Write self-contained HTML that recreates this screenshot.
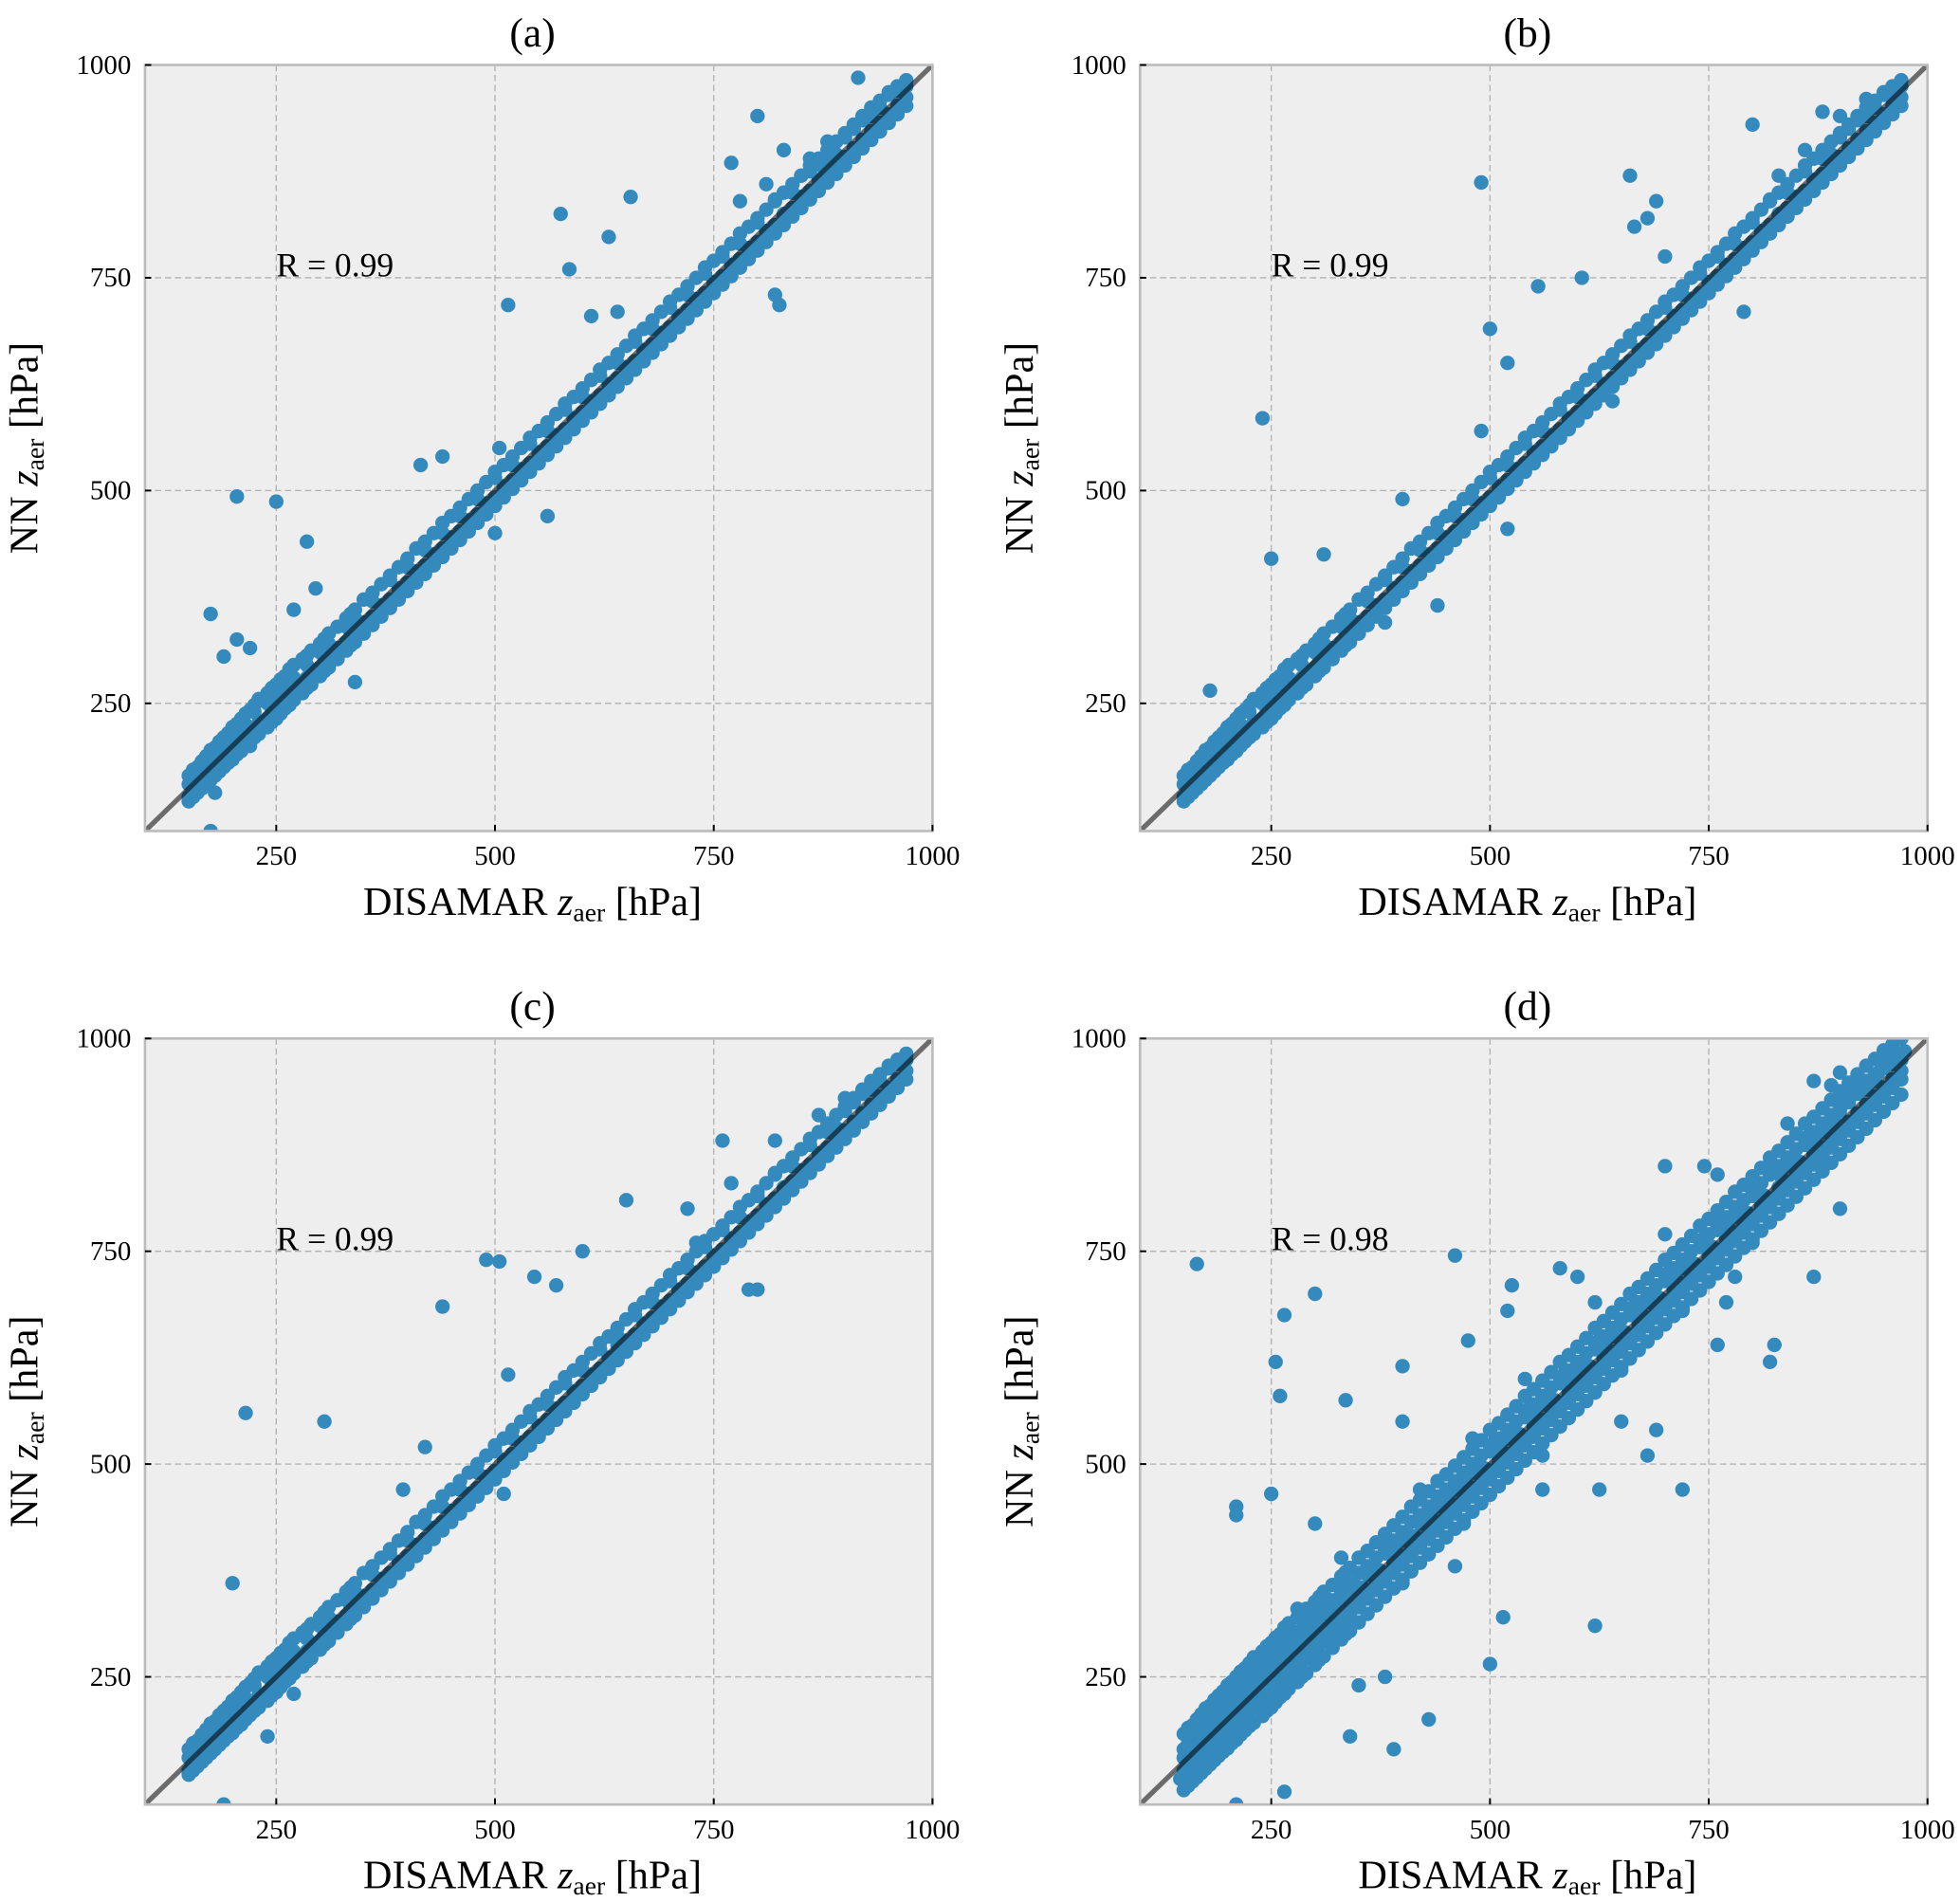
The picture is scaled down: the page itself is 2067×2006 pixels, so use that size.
<!DOCTYPE html>
<html><head><meta charset="utf-8"><style>
html,body{margin:0;padding:0;background:#fff;}
svg{display:block;font-family:"Liberation Serif",serif;}
</style></head><body>
<svg id="fig" width="2067" height="2006" viewBox="0 0 1568 1522" preserveAspectRatio="none" xmlns="http://www.w3.org/2000/svg"></svg>
<script>
const ticks = [250, 500, 750, 1000];
const tickLabels = ["250", "500", "750", "1000"];
const panelTitles = ["(a)", "(b)", "(c)", "(d)"];
const rLabels = ["R = 0.99", "R = 0.99", "R = 0.99", "R = 0.98"];
const bandX = [150,155,160,165,170,175,180,185,190,195,200,205,210,215,220,225,230,240,245,250,255,260,265,270,280,285,290,300,305,310,320,330,335,340,350,360,370,380,390,400,410,420,430,440,450,460,470,480,490,500,510,520,530,540,550,560,570,580,590,600,610,620,630,640,650,660,670,680,690,700,710,720,730,740,750,760,770,780,790,800,810,820,830,840,850,860,870,880,890,900,910,920,930,940,950,960,970];
const bandY = [155,148,165,160,180,170,190,178,195,205,190,215,205,225,212,240,228,250,235,260,248,270,255,280,275,295,285,310,300,320,315,340,330,350,345,370,365,395,385,410,405,430,425,450,445,470,465,490,485,515,505,530,525,555,545,570,565,595,585,610,605,635,625,650,645,675,665,690,685,715,705,730,725,755,745,775,765,790,785,815,805,840,825,850,845,875,865,890,895,915,925,935,940,950,965,970,975];
const bandLowY = [140,145,150,158,162,168,172,180,185,188,195,198,205,208,215,220,225,232,240,244,250,255,262,265,272,280,284,292,298,305,312,322,328,335,342,352,362,372,382,392,402,412,422,432,442,452,462,472,482,492,502,512,522,532,542,552,562,572,582,592,602,612,622,632,642,652,662,672,682,692,702,712,722,732,742,752,762,772,782,792,802,812,822,832,842,852,862,872,882,892,902,912,922,932,942,952,962];
const bandHiY = [165,172,175,182,188,195,198,205,210,215,222,226,232,238,242,248,255,262,268,272,278,282,290,295,302,306,312,320,326,332,340,350,355,360,372,380,390,400,410,420,432,440,450,462,470,480,490,500,510,522,530,540,550,562,570,580,590,602,610,620,630,642,650,660,670,682,690,700,710,722,730,740,750,762,770,780,790,802,810,820,830,842,850,860,870,882,890,900,910,920,930,940,950,958,968,975,982];
const bandLow2Y = [135,140,145,150,155,160,165,170,175,180,184,190,194,200,205,210,214,222,228,232,238,244,248,254,262,268,272,282,288,292,302,312,318,322,332,342,352,362,372,382,392,402,412,422,432,442,452,462,472,482,492,502,512,522,532,542,552,562,572,582,592,602,612,622,632,642,652,662,672,682,692,702,712,722,732,742,752,762,772,782,792,802,812,822,832,842,852,862,872,882,892,902,912,922,932,942,952];
const outAX = [175,205,250,190,205,220,285,270,295,340,415,440,505,500,515,560,575,585,610,630,655,640,770,820,825,800,875,915,175,180,220,245,830,850,860,880,780,810];
const outAY = [355,493,487,305,325,315,440,360,385,275,530,540,550,450,718,470,825,760,705,798,845,710,885,730,718,940,880,985,100,145,200,230,900,870,890,910,840,860];
const outBX = [240,250,490,500,520,555,605,640,660,665,680,690,700,790,800,830,880,960,180,310,400,440,520,380,490,830,860,900,930];
const outBY = [585,420,862,690,650,740,750,605,870,810,820,840,775,710,930,870,945,960,265,425,490,365,455,345,570,820,900,940,960];
const outCX = [215,200,305,440,490,505,515,545,570,600,640,650,720,760,790,800,420,395,190,240,270,510,730,770,820,870,900];
const outCY = [560,360,550,685,740,738,605,720,710,750,640,810,800,880,705,705,520,470,100,180,230,465,760,830,880,910,930];
const outDX = [165,210,255,260,265,300,335,340,390,400,400,430,460,475,500,515,520,525,580,620,625,650,680,690,720,760,770,820,825,870,900,210,265,350,380,460,560,600,700,745,870,890,210,250,300,440,600,780,230,280,330,420,480,540,620,700,760,840,900,190,250,320,400,470,560,650,720,800,880];
const outDY = [735,450,620,580,675,700,575,180,165,615,550,200,745,645,265,320,680,710,730,310,470,550,510,540,470,640,690,620,640,720,800,100,115,240,250,380,470,600,850,850,950,945,440,465,430,460,720,720,270,330,390,470,530,600,690,770,840,900,960,160,225,290,360,430,510,610,680,760,850];
const panels = [
  {ox:116, oy:52, ox2:outAX, oy2:outAY, wide:false},
  {ox:912, oy:52, ox2:outBX, oy2:outBY, wide:false},
  {ox:116, oy:831, ox2:outCX, oy2:outCY, wide:false},
  {ox:912, oy:831, ox2:outDX, oy2:outDY, wide:true}
];
const W = 630, H = 613, VMIN = 100, VMAX = 1000;
const svg = document.getElementById('fig');
const NS = 'http://www.w3.org/2000/svg';
function mk(tag, attrs, parent){const e=document.createElementNS(NS,tag);for(const k in attrs)e.setAttribute(k,attrs[k]);(parent||svg).appendChild(e);return e;}
panels.forEach((p,i)=>{
  const sx = v => p.ox + (v-VMIN)/(VMAX-VMIN)*W;
  const sy = v => p.oy + H - (v-VMIN)/(VMAX-VMIN)*H;
  const g = mk('g',{});
  
  
  const bg = mk('rect',{x:p.ox,y:p.oy,width:W,height:H,fill:'#eeeeee'},g);
  
  
  ticks.slice(0,3).forEach(t=>{
    const gx = mk('line',{x1:sx(t),x2:sx(t),y1:p.oy,y2:p.oy+H,stroke:'#b0b0b0','stroke-width':1,'stroke-dasharray':'5,3'},g);
    
    
    const gy = mk('line',{x1:p.ox,x2:p.ox+W,y1:sy(t),y2:sy(t),stroke:'#b0b0b0','stroke-width':1,'stroke-dasharray':'5,3'},g);
    
    
  });
  const clip = mk('clipPath',{id:'clip'+i},g);
  mk('rect',{x:p.ox,y:p.oy,width:W,height:H},clip);
  const pts = mk('g',{fill:'#348abd','clip-path':'url(#clip'+i+')'},g);
  
  
  const addPt=(x,y)=>{
    const c = mk('circle',{cx:sx(x),cy:sy(y),r:5.8},pts);
    
    
  };
  bandX.forEach((x,k)=>{addPt(x,bandY[k]);addPt(x,bandLowY[k]);addPt(x,bandHiY[k]);addPt(x,bandLow2Y[k]);});
  if(p.wide){bandX.forEach((x,k)=>{addPt(x,bandHiY[k]+18);addPt(x,bandLow2Y[k]-18);addPt(x+4,bandY[k]+10);addPt(x-4,bandLowY[k]-10);});}
  p.ox2.forEach((x,k)=>addPt(x,p.oy2[k]));
  const diag = mk('line',{x1:sx(VMIN),y1:sy(VMIN),x2:sx(VMAX),y2:sy(VMAX),stroke:'#000','stroke-opacity':0.55,'stroke-width':4,'clip-path':'url(#clip'+i+')'},g);
  
  
  const fr = mk('rect',{x:p.ox,y:p.oy,width:W,height:H,fill:'none',stroke:'#bcbcbc','stroke-width':2},g);
  
  
  ticks.forEach((t,k)=>{
    mk('line',{x1:sx(t),x2:sx(t),y1:p.oy+H,y2:p.oy+H-5,stroke:'#000','stroke-width':1.5},g);
    mk('line',{x1:p.ox,x2:p.ox+5,y1:sy(t),y2:sy(t),stroke:'#000','stroke-width':1.5},g);
    const xl = mk('text',{x:sx(t),y:p.oy+H+27,'text-anchor':'middle','font-size':22},g);
    xl.textContent = tickLabels[k];
    
    
    const yl = mk('text',{x:p.ox-11,y:sy(t)+7,'text-anchor':'end','font-size':22},g);
    yl.textContent = tickLabels[k];
    
    
  });
  const ti = mk('text',{x:p.ox+W/2-5,y:p.oy-15,'text-anchor':'middle','font-size':33},g);
  ti.textContent = panelTitles[i];
  
  
  const rt = mk('text',{x:sx(250),y:sy(750)-1,'font-size':27},g);
  rt.textContent = rLabels[i];
  
  
  const xt = mk('text',{x:p.ox+W/2-5,y:p.oy+H+67,'text-anchor':'middle','font-size':32},g);
  xt.innerHTML = 'DISAMAR <tspan font-style="italic">z</tspan><tspan font-size="21" dy="5">aer</tspan><tspan dy="-5"> [hPa]</tspan>';
  
  
  const cy = p.oy+H/2;
  const yt = mk('text',{x:0,y:0,'text-anchor':'middle','font-size':32,transform:'translate('+(p.ox-86)+','+cy+') rotate(-90)'},g);
  yt.innerHTML = 'NN <tspan font-style="italic">z</tspan><tspan font-size="21" dy="5">aer</tspan><tspan dy="-5"> [hPa]</tspan>';
  
  
});
</script>
</body></html>
